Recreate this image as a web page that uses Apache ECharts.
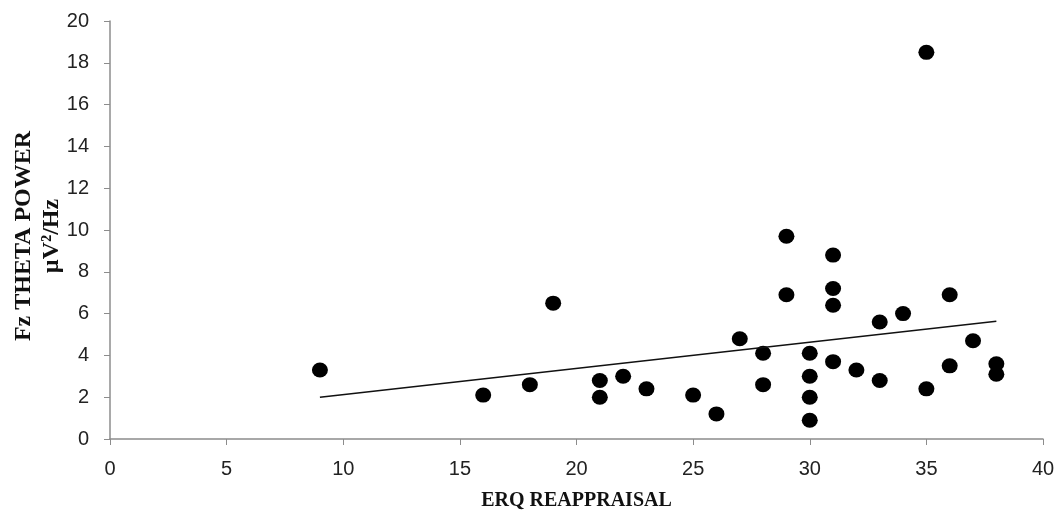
<!DOCTYPE html>
<html>
<head>
<meta charset="utf-8">
<script src="https://cdn.jsdelivr.net/npm/echarts@6/dist/echarts.min.js"></script>
<style>
  html, body { margin: 0; padding: 0; background: #fff; }
  #chart { width: 1055px; height: 513px; }
</style>
</head>
<body>
<div id="chart"></div>
<script>
// ERQ reappraisal score vs Fz theta power
const erqScores = [9, 16, 18, 19, 21, 21, 22, 23, 25, 26, 27, 28, 28, 29, 29, 30, 30, 30, 30,
  31, 31, 31, 31, 32, 33, 33, 34, 35, 35, 36, 36, 37, 38, 38]
const thetaPower = [3.3, 2.1, 2.6, 6.5, 2.8, 2.0, 3.0, 2.4, 2.1, 1.2, 4.8, 4.1, 2.6, 9.7, 6.9, 4.1, 3.0, 2.0, 0.9,
  8.8, 7.2, 6.4, 3.7, 3.3, 5.6, 2.8, 6.0, 18.5, 2.4, 6.9, 3.5, 4.7, 3.6, 3.1]
// trend line ends as drawn in the figure
const trendX = [9, 38]
const trendY = [2.0, 5.63]
const xTicks = { min: 0, max: 40, interval: 5 }
const yTicks = { min: 0, max: 20, interval: 2 }

const chart = echarts.init(document.getElementById('chart'))

const axisColor = '#8c8c8c'
const labelStyle = { color: '#222', fontFamily: 'Liberation Sans, Arial', fontSize: 20 }
const titleFont = 'Liberation Serif, Times New Roman'

chart.setOption({
  animation: false,
  backgroundColor: '#fff',
  grid: { left: 110, right: 12, top: 21, bottom: 74, outerBoundsMode: 'none', containLabel: false },
  xAxis: {
    type: 'value',
    ...xTicks,
    name: 'ERQ REAPPRAISAL',
    nameLocation: 'middle',
    nameGap: 52,
    nameMoveOverlap: false,
    nameTextStyle: { color: '#111', fontFamily: titleFont, fontSize: 20, fontWeight: 'bold' },
    axisLine: { show: true, lineStyle: { color: axisColor, width: 1.5 } },
    axisTick: { show: true, length: 6, lineStyle: { color: axisColor } },
    axisLabel: { ...labelStyle, margin: 20 },
    splitLine: { show: false },
  },
  yAxis: {
    type: 'value',
    ...yTicks,
    name: 'Fz THETA POWER\nµV²/Hz',
    nameLocation: 'middle',
    nameRotate: 90,
    nameGap: 44,
    nameMoveOverlap: false,
    nameTextStyle: {
      color: '#111', fontFamily: titleFont, fontSize: 24, fontWeight: 'bold', lineHeight: 28,
      padding: [0, 12, 0, 0],
    },
    axisLine: { show: true, lineStyle: { color: axisColor, width: 1.5 } },
    axisTick: { show: true, length: 6, lineStyle: { color: axisColor } },
    axisLabel: { ...labelStyle, margin: 21 },
    splitLine: { show: false },
  },
  series: [
    {
      type: 'scatter',
      data: erqScores.map((x, i) => [x, thetaPower[i]]),
      symbol: 'circle',
      symbolSize: [16, 15],
      itemStyle: { color: '#000', opacity: 1 },
    },
    {
      type: 'line',
      data: trendX.map((x, i) => [x, trendY[i]]),
      symbol: 'none',
      lineStyle: { color: '#111', width: 1.5 },
    },
  ],
})
</script>
</body>
</html>
